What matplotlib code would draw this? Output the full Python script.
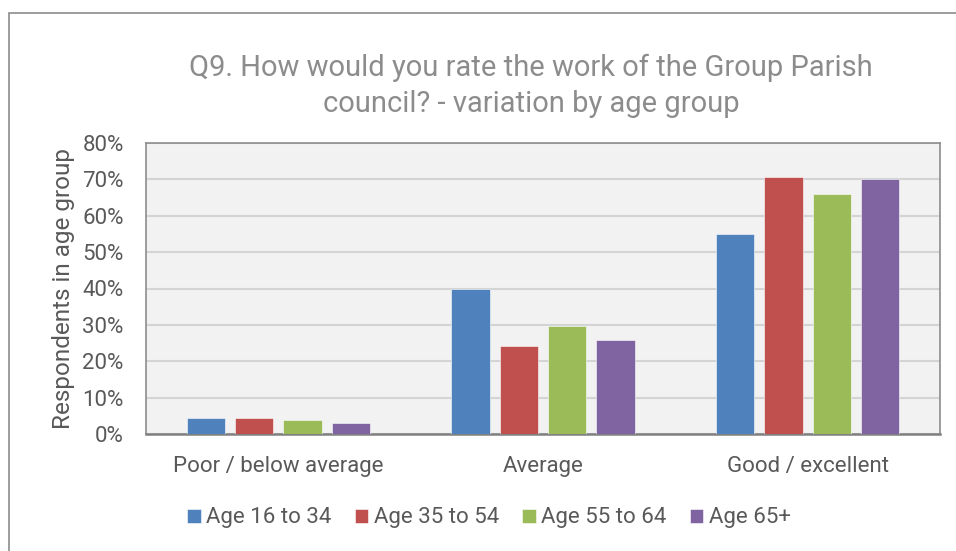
import numpy as np
import matplotlib
matplotlib.use("Agg")
import matplotlib.pyplot as plt
from matplotlib.patches import Rectangle

plt.rcParams['font.family'] = ['Roboto', 'DejaVu Sans']

# data
categories = ['Poor / below average', 'Average', 'Good / excellent']
series_names = ['Age 16 to 34', 'Age 35 to 54', 'Age 55 to 64', 'Age 65+']
age_16_34 = [4.4, 39.8, 55.1]
age_35_54 = [4.4, 24.3, 70.6]
age_55_64 = [3.8, 29.8, 65.9]
age_65_plus = [3.1, 25.9, 70.2]
colors = ['#4f81bd', '#c0504d', '#9bbb59', '#8064a2']
y_ticks = [0, 10, 20, 30, 40, 50, 60, 70, 80]

text_col = '#595959'

fig = plt.figure(figsize=(9.56, 5.51), dpi=100)
W, H = 956, 551
ax = fig.add_axes([146 / W, 1 - 434 / H, (940 - 146) / W, (434 - 143) / H])

# outer chart border (only left/top visible in the reference)
fig.patches.append(Rectangle((9 / W, -0.1), 1.2, 1 - 13 / H + 0.1,
                             transform=fig.transFigure, fill=False,
                             edgecolor='#8c8c8c', linewidth=1.2))

x = np.arange(len(categories))
step = 0.1826
width = 0.144
all_series = [age_16_34, age_35_54, age_55_64, age_65_plus]
for i, (vals, name, c) in enumerate(zip(all_series, series_names, colors)):
    ax.bar(x + (i - 1.5) * step, vals, width, color=c, label=name,
           edgecolor='white', linewidth=0.4, zorder=3)

ax.set_xlim(-0.5, 2.5)
ax.set_ylim(0, 80)
ax.set_yticks(y_ticks)
ax.set_yticklabels([f'{t}%' for t in y_ticks])
ax.set_xticks(x)
ax.set_xticklabels(categories)
ax.set_facecolor('#f2f2f2')
ax.grid(axis='y', color='#d4d4d4', linewidth=1.5, zorder=0)
ax.set_axisbelow(True)
for s in ax.spines.values():
    s.set_color('#8c8c8c')
    s.set_linewidth(1.2)
ax.spines['bottom'].set_color('#808080')
ax.spines['bottom'].set_linewidth(1.8)
ax.tick_params(length=0, labelsize=16, colors=text_col)
ax.tick_params(axis='y', pad=16)
ax.tick_params(axis='x', pad=16)

ax.set_ylabel('Respondents in age group', fontsize=17.5, color=text_col, labelpad=5)

fig.text(531 / W, 1 - 68 / H, 'Q9. How would you rate the work of the Group Parish',
         ha='center', va='center', fontsize=21, color='#8c8c8c')
fig.text(531 / W, 1 - 104 / H, 'council? - variation by age group',
         ha='center', va='center', fontsize=21, color='#8c8c8c')

leg = fig.legend(loc='center', bbox_to_anchor=(489 / W, 1 - 518 / H), ncol=4,
                 frameon=False, fontsize=16, handlelength=0.6, handleheight=0.6,
                 handletextpad=0.25, columnspacing=1.05)
for t in leg.get_texts():
    t.set_color(text_col)

fig.savefig('out.png', dpi=100)
